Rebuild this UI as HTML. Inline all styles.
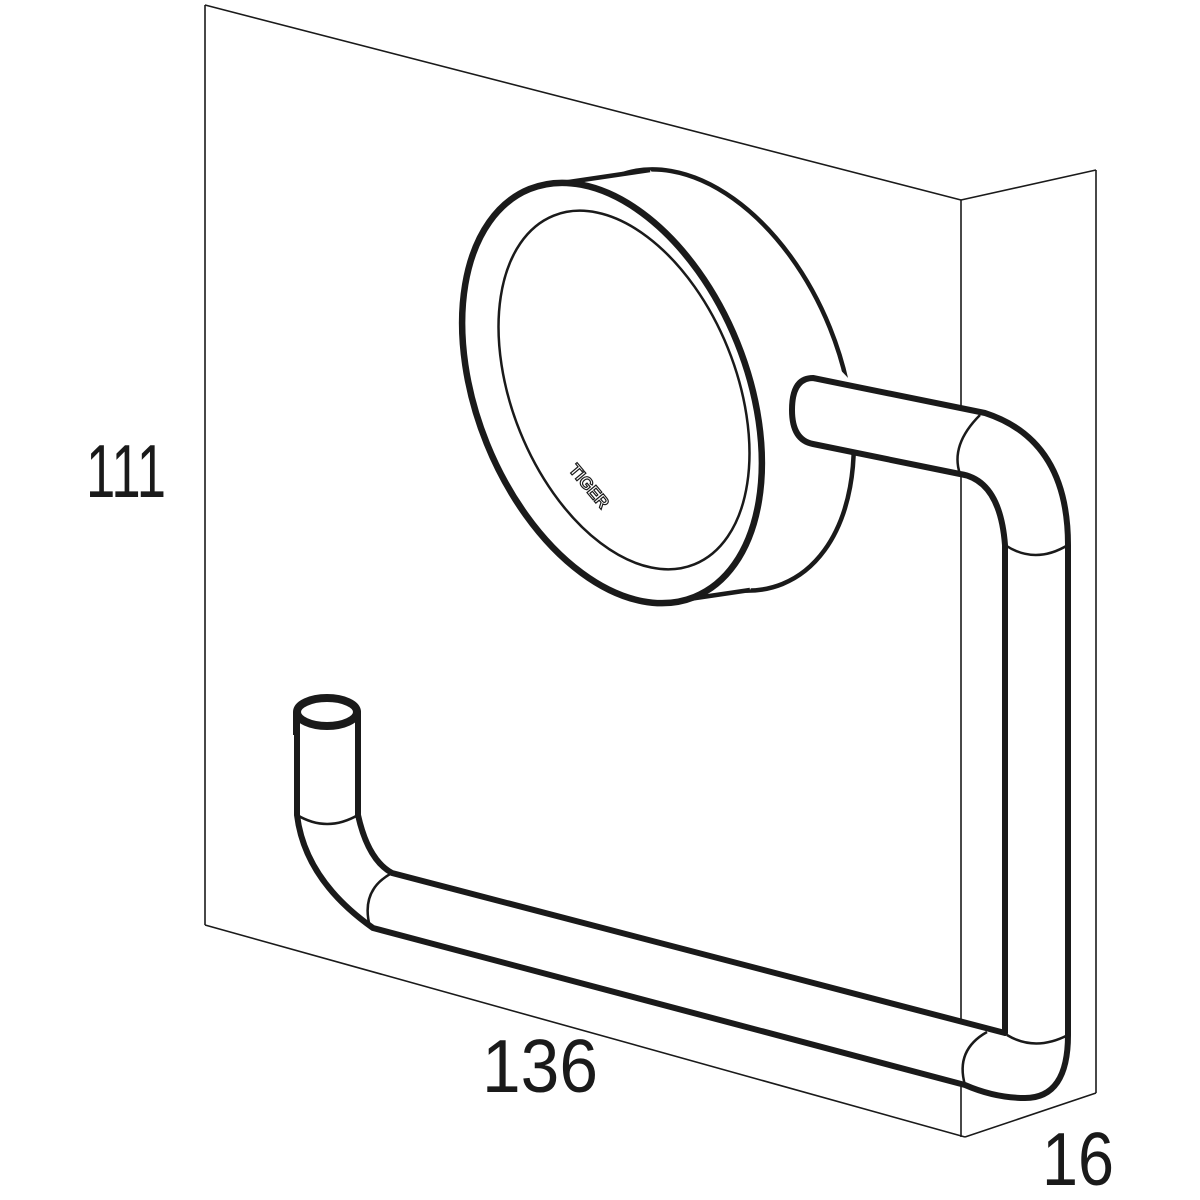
<!DOCTYPE html>
<html><head><meta charset="utf-8"><style>html,body{margin:0;padding:0;background:#fff}svg{display:block}</style></head>
<body>
<svg width="1200" height="1200" viewBox="0 0 1200 1200" xmlns="http://www.w3.org/2000/svg">
<rect width="1200" height="1200" fill="#fff"/>
<g fill="none" stroke="#1a1a1a" stroke-width="1.6">
<line x1="205" y1="5" x2="205" y2="925"/>
<line x1="205" y1="5" x2="961" y2="200"/>
<line x1="961" y1="200" x2="1096" y2="170"/>
<line x1="1096" y1="170" x2="1096" y2="1093"/>
<line x1="961" y1="200" x2="961" y2="1137"/>
<line x1="205" y1="925" x2="965" y2="1137"/>
<line x1="965" y1="1137" x2="1096" y2="1093"/>
</g>
<!-- rosette back -->
<g stroke="#1a1a1a" fill="#fff" stroke-linejoin="round">
<ellipse cx="700" cy="380" rx="140" ry="220" transform="rotate(-22 700 380)" stroke-width="4.5"/>
<polygon points="562,183 650,170 850,380 750,590 662,603 470,330" stroke="none"/>
<line x1="562" y1="183" x2="650" y2="170" stroke-width="4.5"/>
<line x1="662" y1="603" x2="750" y2="590" stroke-width="4.5"/>
<ellipse cx="612" cy="393" rx="135" ry="220" transform="rotate(-22 612 393)" stroke-width="6.5"/>
<ellipse cx="624" cy="390" rx="112" ry="188" transform="rotate(-22 624 390)" stroke-width="2.5"/>
</g>
<text x="0" y="0" transform="translate(568,470) rotate(50)" font-family="Liberation Sans, sans-serif" font-weight="bold" font-size="17" fill="#fff" stroke="#1a1a1a" stroke-width="1.2">TIGER</text>
<!-- rod -->
<g stroke="#1a1a1a" fill="#fff" stroke-width="6" stroke-linejoin="round" stroke-linecap="round">
<path d="M985,413 Q1068,440 1068,545 L1068,1035 Q1068,1098 1025,1098 Q995,1098 965,1085 L373,928 Q305,880 297,815 L297,712 L358,712 L358,815 Q368,860 392,873 L1005,1033 L1005,545 Q1000,480 960,474 L813,444 Q792,440 792,410 Q792,378 813,378 Z"/>
</g>
<g stroke="#1a1a1a" fill="none" stroke-width="2.5">
<path d="M980,415 Q950,445 960,474"/>
<path d="M1005,545 Q1035,565 1068,545"/>
<path d="M987,1032 Q955,1050 965,1085"/>
<path d="M1007,1035 Q1035,1052 1068,1035"/>
<path d="M392,873 Q360,890 370,927"/>
<path d="M297,815 Q327,833 358,815"/>
</g>
<ellipse cx="327" cy="712" rx="30" ry="14" fill="#fff" stroke="#1a1a1a" stroke-width="8"/>
<line x1="296" y1="712" x2="296" y2="735" stroke="#1a1a1a" stroke-width="6"/>
<line x1="358" y1="712" x2="358" y2="735" stroke="#1a1a1a" stroke-width="6"/>
<g font-family="Liberation Sans, sans-serif" fill="#1a1a1a" font-size="75">
<text x="86" y="497" textLength="80" lengthAdjust="spacingAndGlyphs">111</text>
<text x="482" y="1092" textLength="116" lengthAdjust="spacingAndGlyphs">136</text>
<text x="1042" y="1185" textLength="72" lengthAdjust="spacingAndGlyphs">16</text>
</g>
</svg>
</body></html>
